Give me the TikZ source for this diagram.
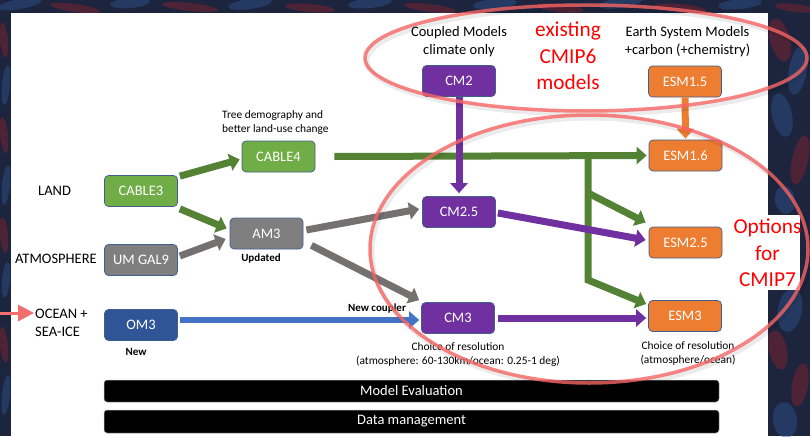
\documentclass[tikz,border=0pt]{standalone}
\usepackage{fontspec}
\setmainfont{Carlito}
\usetikzlibrary{arrows.meta,calc}
\definecolor{bgdark}{RGB}{28,36,62}
\definecolor{bgblue}{RGB}{50,85,145}
\definecolor{bgred}{RGB}{140,35,45}
\definecolor{landgreen}{RGB}{112,173,71}
\definecolor{arrowgreen}{RGB}{84,130,53}
\definecolor{atmgray}{RGB}{127,127,127}
\definecolor{arrowgray}{RGB}{118,113,113}
\definecolor{oceanblue}{RGB}{47,85,151}
\definecolor{arrowblue}{RGB}{68,114,196}
\definecolor{cmpurple}{RGB}{112,48,160}
\definecolor{esmorange}{RGB}{237,125,49}
\definecolor{boxline}{RGB}{65,95,140}
\definecolor{ringred}{RGB}{245,100,100}
\definecolor{pinkarrow}{RGB}{240,110,110}
\begin{document}
\begin{tikzpicture}[x=1pt,y=-1pt,
  box/.style={rounded corners=4pt, minimum width=73pt, minimum height=31pt, inner sep=0pt,
    text=white, font=\fontsize{14.5}{17}\selectfont, draw=boxline, line width=0.7pt},
  lab/.style={font=\fontsize{14.5}{17.5}\selectfont, text=black, inner sep=0pt, align=left},
  small/.style={font=\fontsize{11.4}{14}\selectfont, inner sep=0pt, align=center},
  smallbold/.style={font=\fontsize{11}{13}\selectfont\bfseries, inner sep=0pt},
  redlab/.style={font=\fontsize{21.3}{26.5}\selectfont, text=red, align=center, inner sep=0pt},
  blockarrow/.style={line width=7pt, -{Triangle[width=17pt,length=10pt]}},
  bar/.style={fill=black, rounded corners=3pt, minimum width=615pt, inner sep=0pt,
    text=white, font=\fontsize{14.5}{17}\selectfont, draw=gray!60, line width=0.5pt},
  ring/.style={draw=ringred, line width=3.5pt, opacity=0.8},
  ringshadow/.style={draw=black, line width=5pt, opacity=0.08},
  blob/.style={opacity=0.45}
]
\useasboundingbox (0,0) rectangle (810,436);
% background texture
\fill[bgdark] (0,0) rectangle (810,436);
\foreach \x/\y/\a/\b/\r/\c in {
  20/4/22/5/10/bgblue, 75/8/25/4/-8/bgred, 130/3/20/5/5/bgblue, 190/7/28/4/-6/bgred,
  250/4/22/5/8/bgblue, 310/8/25/4/-5/bgred, 370/3/22/5/6/bgblue, 430/8/26/4/-7/bgred,
  495/4/22/5/5/bgblue, 560/8/24/4/-6/bgred, 620/3/22/5/8/bgblue, 680/8/26/4/-5/bgred,
  740/4/22/5/6/bgblue, 795/8/20/4/-7/bgred,
  4/40/4/18/5/bgred, 6/85/4/20/-5/bgblue, 4/135/4/18/6/bgred, 6/185/4/20/-6/bgblue,
  4/235/4/18/5/bgred, 6/280/4/18/-5/bgblue, 4/345/4/18/6/bgred, 6/395/4/20/-6/bgblue,
  780/40/10/22/15/bgred, 798/70/9/25/-10/bgblue, 782/115/10/22/12/bgblue, 800/160/8/25/-12/bgred,
  785/200/10/14/10/bgblue, 790/310/12/22/-10/bgblue, 778/350/9/20/12/bgred, 800/385/8/22/-10/bgred,
  785/420/12/18/8/bgblue}
  {\fill[\c,blob,rotate around={\r:(\x,\y)}] (\x,\y) ellipse [x radius=\a pt, y radius=\b pt];}
% slide
\fill[white] (11,13) rectangle (768,436);
\fill[white] (725,215) rectangle (800,290);

% nodes
\node[box, fill=landgreen] (CABLE3) at (141,191) {CABLE3};
\node[box, fill=landgreen] (CABLE4) at (278.5,156.5) {CABLE4};
\node[box, fill=atmgray] (AM3) at (266.5,233.5) {AM3};
\node[box, fill=atmgray] (UMGAL9) at (141,260) {UM GAL9};
\node[box, fill=oceanblue] (OM3) at (141,325) {OM3};
\node[box, fill=cmpurple] (CM2) at (459,81) {CM2};
\node[box, fill=cmpurple] (CM25) at (459,212) {CM2.5};
\node[box, fill=cmpurple] (CM3) at (458,318) {CM3};
\node[box, fill=esmorange] (ESM15) at (685,81.5) {ESM1.5};
\node[box, fill=esmorange] (ESM16) at (685.5,155.5) {ESM1.6};
\node[box, fill=esmorange] (ESM25) at (685.5,242.5) {ESM2.5};
\node[box, fill=esmorange] (ESM3) at (685,316) {ESM3};

\node[bar, minimum height=22pt] (eval) at (411.5,391) {Model Evaluation};
\node[bar, minimum height=23pt] (data) at (411.5,421.5) {Data management};

% labels
\node[lab, anchor=west] (tland) at (38,191) {LAND};
\node[lab, anchor=west] (tatm) at (15,259) {ATMOSPHERE};
\node[lab, anchor=west] (tocean) at (35,323) {OCEAN +\\SEA-ICE};
\node[small, anchor=west, align=left] (ttree) at (222,123) {Tree demography and\\better land-use change};
\node[smallbold] (tupd) at (261,259) {Updated};
\node[smallbold] (tnew) at (136,352) {New};
\node[smallbold] (tcoupler) at (377,309) {New coupler};
\node[small] (tres1) at (458,355) {Choice of resolution\\(atmosphere: 60-130km/ocean: 0.25-1 deg)};
\node[small] (tres2) at (688,353.5) {Choice of resolution\\(atmosphere/ocean)};
\node[lab, align=center] (thead1) at (459,41.5) {Coupled Models\\climate only};
\node[lab, align=center] (thead2) at (687.5,41.5) {Earth System Models\\+carbon (+chemistry)};
\node[redlab] (texist) at (568,56) {existing\\CMIP6\\models};
\node[redlab] (toptions) at (767.5,253) {Options\\for\\CMIP7};

% connectors
\draw[blockarrow, arrowgreen] ($(CABLE3.north east)+(2,1)$) -- ($(CABLE4.west)+(-2,3)$);
\draw[blockarrow, arrowgreen] ($(CABLE3.south east)+(2,2)$) -- ($(AM3.west)+(-3,-5)$);
\draw[blockarrow, arrowgray] ($(UMGAL9.east)+(2,-4)$) -- ($(AM3.west)+(-4,5.5)$);
\draw[blockarrow, arrowgray] ($(AM3.east)+(3,-3.5)$) -- ($(CM25.west)+(-3,-3)$);
\draw[blockarrow, arrowgray] ($(AM3.south east)+(8,-4)$) -- ($(CM3.north west)+(-2,-2)$);
\draw[blockarrow, arrowblue, line width=6pt] ($(OM3.east)+(2,-5)$) -- ($(CM3.west)+(-2,2)$);
\draw[blockarrow, arrowgreen] ($(CABLE4.east)+(19,0)$) -- ($(ESM16.west)+(-2,0)$);
\coordinate (gtop) at (588,152.5);
\coordinate (gmid) at (588,193);
\coordinate (gbot) at (588,280);
\draw[blockarrow, arrowgreen, line join=miter] (gtop) -- (gbot) -- ($(ESM3.west)+(-2,-12)$);
\draw[blockarrow, arrowgreen] (gmid) -- ($(ESM25.west)+(-3,-20)$);
\draw[blockarrow, cmpurple] (CM2.south) -- ($(CM25.north)+(0,-3)$);
\draw[blockarrow, cmpurple] ($(CM25.east)+(2,1)$) -- ($(ESM25.west)+(-3,-2.5)$);
\draw[blockarrow, cmpurple] ($(CM3.east)+(3,0)$) -- ($(ESM3.west)+(-2,2)$);
\draw[blockarrow, esmorange] (ESM15.south) -- ($(ESM16.north)+(0,-1)$);

% pink arrow at left
\coordinate (redstart) at (0,313);
\coordinate (redtip) at (34,313);
\draw[line width=3pt, pinkarrow, -{Triangle[width=16pt,length=16pt]}] (redstart) -- (redtip);

% rings
\draw[ringshadow] (588,61) ellipse [x radius=221pt, y radius=53pt];
\draw[ringshadow] (591,252) ellipse [x radius=219pt, y radius=134pt];
\draw[ring] (586,58) ellipse [x radius=221pt, y radius=53pt];
\draw[ring] (589,249) ellipse [x radius=219pt, y radius=134pt];
\end{tikzpicture}
\end{document}
